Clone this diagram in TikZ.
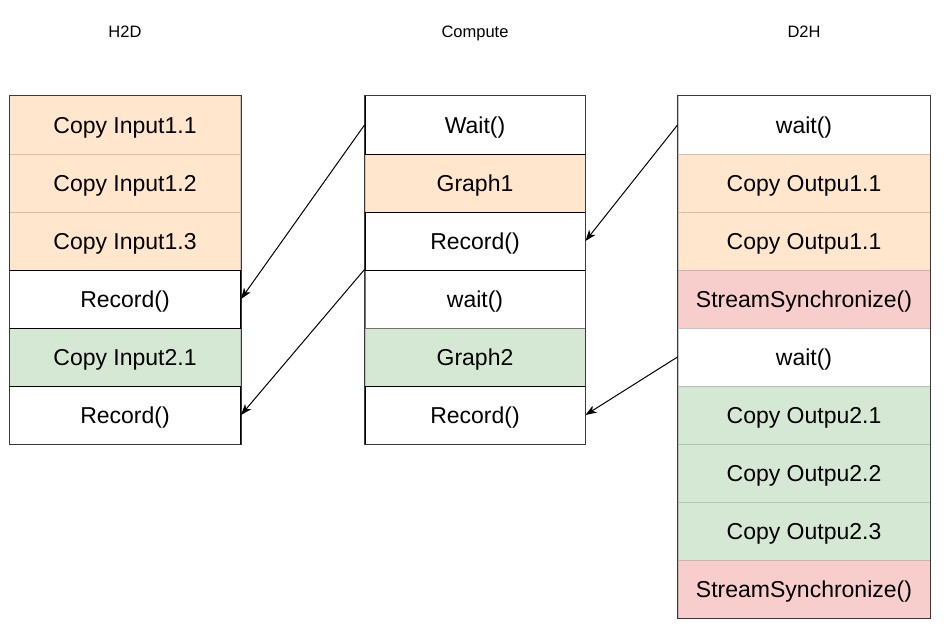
\documentclass[tikz,border=0pt]{standalone}
\usepackage{fontspec}
\setmainfont{Liberation Sans}
\usetikzlibrary{arrows.meta}
\definecolor{oFill}{HTML}{FFE6CC}
\definecolor{gFill}{HTML}{D5E8D4}
\definecolor{rFill}{HTML}{F8CECC}
\definecolor{oLine}{HTML}{D6BFA8}
\definecolor{gLine}{HTML}{B2C4B1}
\definecolor{rLine}{HTML}{D2AEAC}
\definecolor{wLine}{HTML}{C4C4C4}
\definecolor{outerLine}{HTML}{3A3A3A}
\tikzset{
  cell/.style={rectangle, inner sep=0pt, minimum height=58pt, line width=1pt,
    text height=16.6pt, text depth=0pt, font=\fontsize{23}{27}\selectfont},
  hcell/.style={cell, minimum width=231pt},
  ccell/.style={cell, minimum width=220pt},
  dcell/.style={cell, minimum width=252pt},
  orangecell/.style={fill=oFill, draw=oLine},
  greencell/.style={fill=gFill, draw=gLine},
  redcell/.style={fill=rFill, draw=rLine},
  whitelight/.style={fill=white, draw=wLine},
  whitegray/.style={fill=white, draw=black!55},
  whiteblack/.style={fill=white, draw=black},
  outerbox/.style={draw=outerLine, line width=1pt},
  title/.style={anchor=base, font=\fontsize{16.5}{20}\selectfont},
  link/.style={draw=black, line width=1pt, -{Stealth[length=11pt,width=8pt,inset=3pt]}}
}
\begin{document}
\begin{tikzpicture}[x=1pt,y=-1pt]
\useasboundingbox (0,0) rectangle (951,634);
% titles
\node[title] (t1) at (125,38) {H2D};
\node[title] (t2) at (475,38) {Compute};
\node[title] (t3) at (804,38) {D2H};
% H2D column (light cells first)
\node[hcell, orangecell] (h1) at (125,125) {Copy Input1.1};
\node[hcell, orangecell] (h2) at (125,183) {Copy Input1.2};
\node[hcell, orangecell] (h3) at (125,241) {Copy Input1.3};
\node[hcell, greencell]  (h5) at (125,357) {Copy Input2.1};
\node[hcell, whiteblack] (h4) at (125,299) {Record()};
\node[hcell, whiteblack] (h6) at (125,415) {Record()};
% Compute column
\node[ccell, orangecell] (c2) at (475,183) {Graph1};
\node[ccell, greencell]  (c5) at (475,357) {Graph2};
\node[ccell, whitegray]  (c4) at (475,299) {wait()};
\node[ccell, whiteblack] (c1) at (475,125) {Wait()};
\node[ccell, whiteblack] (c3) at (475,241) {Record()};
\node[ccell, whiteblack] (c6) at (475,415) {Record()};
% D2H column
\node[dcell, whitelight] (d1) at (804,125) {wait()};
\node[dcell, orangecell] (d2) at (804,183) {Copy Outpu1.1};
\node[dcell, orangecell] (d3) at (804,241) {Copy Outpu1.1};
\node[dcell, redcell]    (d4) at (804,299) {StreamSynchronize()};
\node[dcell, whitelight] (d5) at (804,357) {wait()};
\node[dcell, greencell]  (d6) at (804,415) {Copy Outpu2.1};
\node[dcell, greencell]  (d7) at (804,473) {Copy Outpu2.2};
\node[dcell, greencell]  (d8) at (804,531) {Copy Outpu2.3};
\node[dcell, redcell]    (d9) at (804,589) {StreamSynchronize()};
% outer borders
\draw[outerbox] (h1.north west) rectangle (h6.south east);
\draw[outerbox] (c1.north west) rectangle (c6.south east);
\draw[outerbox] (d1.north west) rectangle (d9.south east);
% connectors
\draw[link] (c1.west) -- (h4.east);
\draw[link] (c4.north west) -- (h6.east);
\draw[link] (d1.west) -- (c3.east);
\draw[link] (d5.west) -- (c6.east);
\end{tikzpicture}
\end{document}
